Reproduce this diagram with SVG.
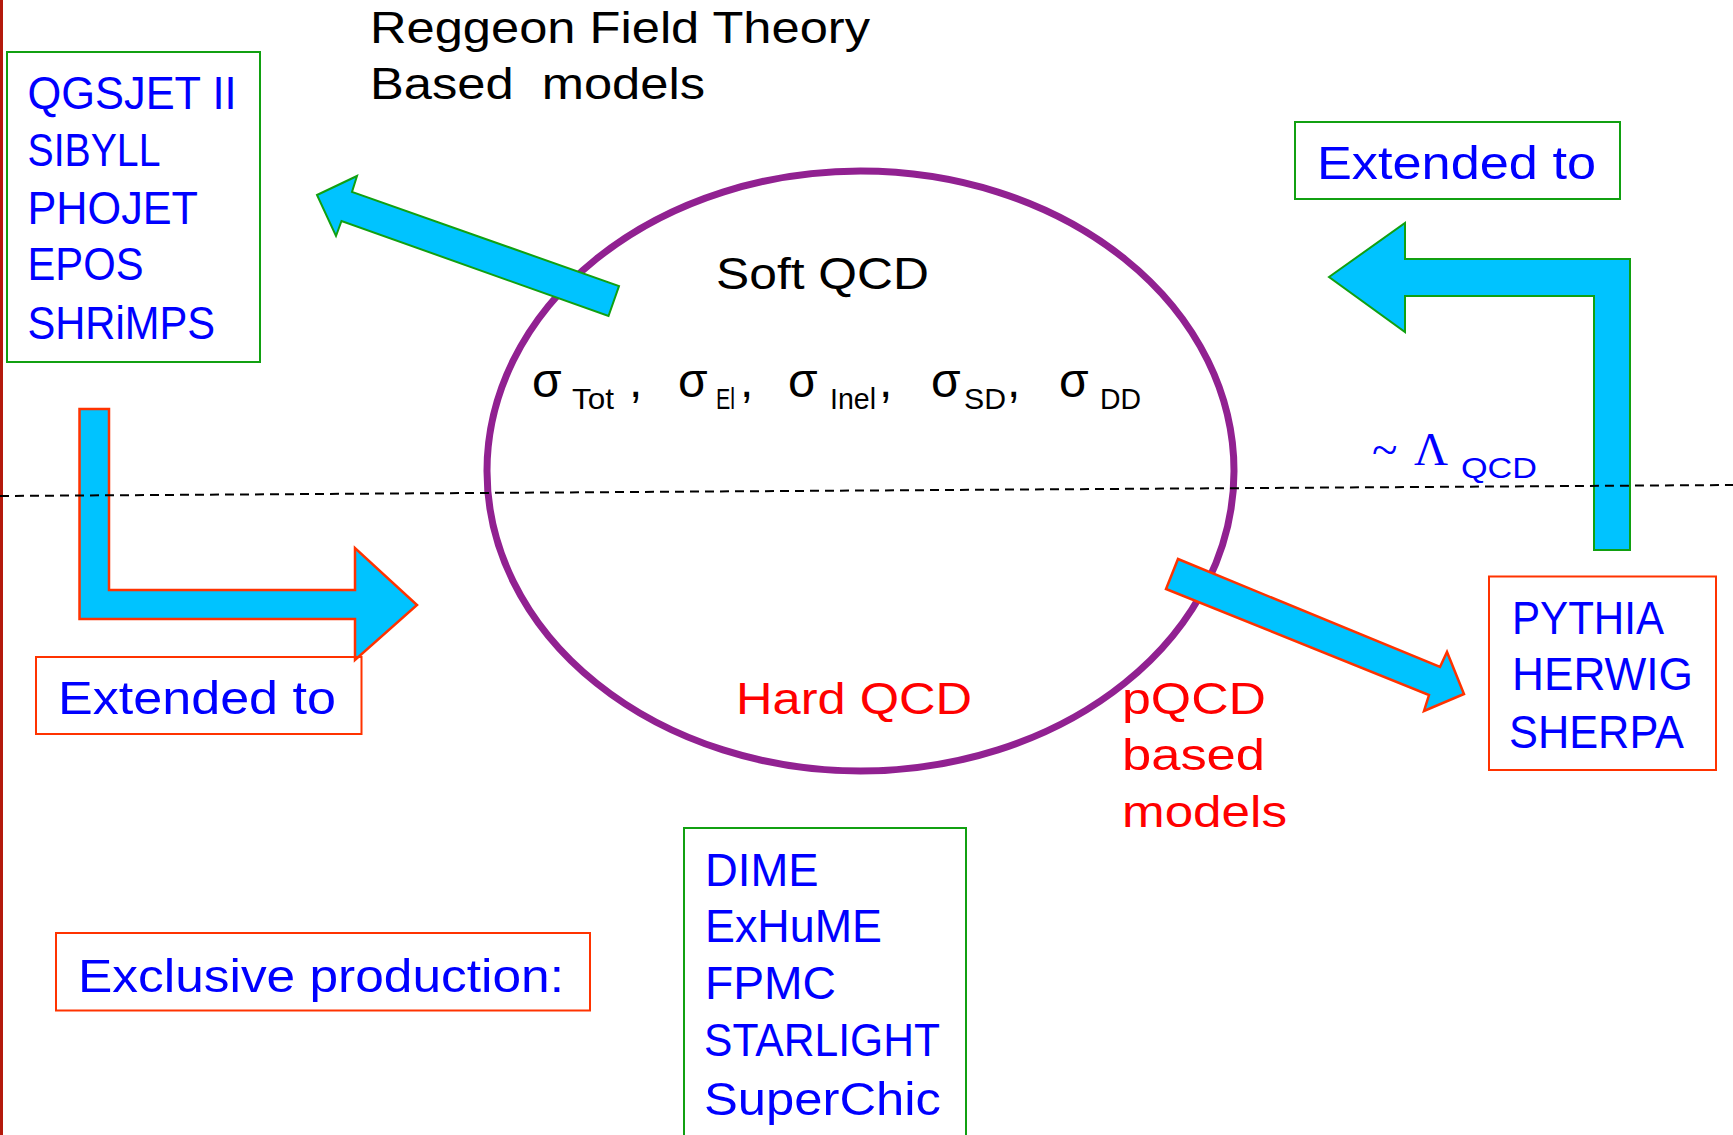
<svg xmlns="http://www.w3.org/2000/svg" width="1733" height="1135" viewBox="0 0 1733 1135">
<style>
text{font-family:"Liberation Sans","Arial",sans-serif;}
.blue{fill:#0000ff;font-size:47px;}
.red{fill:#ff0000;font-size:45px;}
.blk{fill:#000;font-size:44px;}
.gbox{fill:none;stroke:#11a011;stroke-width:2;}
.rbox{fill:none;stroke:#ff3300;stroke-width:2;}
.garrow{fill:#00c3ff;stroke:#11a011;stroke-width:2;}
.rarrow{fill:#00c3ff;stroke:#ff3300;stroke-width:2.5;}
.sig{fill:#000;font-size:48px;}
.sub{fill:#000;font-size:30px;}
.serif{font-family:"Liberation Serif","Times New Roman",serif;fill:#0000ff;font-size:47px;}
</style>
<rect x="0" y="0" width="1733" height="1135" fill="#ffffff"/>
<rect x="0" y="0" width="3" height="1135" fill="#b4190c"/>

<g id="soft-hard-qcd">
<ellipse cx="860.5" cy="471" rx="373.5" ry="300" fill="none" stroke="#912191" stroke-width="7"/>
</g>

<g id="connectors">
<polygon class="garrow" points="317,195 357,176 352,192 619,286 608.5,316 341.5,221 336,236"/>
<polygon class="garrow" points="1329,277 1405,223 1405,259 1630,259 1630,550 1594,550 1594,296 1405,296 1405,332"/>
<polygon class="rarrow" points="79.5,409 109,409 109,590 355,590 355,548 417,605 355,660 355,619 79.5,619"/>
<polygon class="rarrow" points="1178,559 1440,667 1447,652 1464,694 1424,711 1429,695 1166,589"/>
<line x1="0" y1="496" x2="1733" y2="485" stroke="#000" stroke-width="2" stroke-dasharray="9 6"/>
</g>

<g id="rft-title">
<text class="blk" x="370" y="43" textLength="500" lengthAdjust="spacingAndGlyphs">Reggeon Field Theory</text>
<text class="blk" x="370" y="99" textLength="335" lengthAdjust="spacingAndGlyphs">Based&#160; models</text>
</g>

<g id="rft-models">
<rect class="gbox" x="7" y="52" width="253" height="310"/>
<text class="blue" x="27.5" y="109" textLength="209" lengthAdjust="spacingAndGlyphs">QGSJET II</text>
<text class="blue" x="27.5" y="166" textLength="133" lengthAdjust="spacingAndGlyphs">SIBYLL</text>
<text class="blue" x="27.5" y="224" textLength="170.5" lengthAdjust="spacingAndGlyphs">PHOJET</text>
<text class="blue" x="27.5" y="280" textLength="116" lengthAdjust="spacingAndGlyphs">EPOS</text>
<text class="blue" x="27.5" y="339" textLength="187.5" lengthAdjust="spacingAndGlyphs">SHRiMPS</text>
</g>

<g id="extended-top">
<rect class="gbox" x="1295" y="122" width="325" height="77"/>
<text class="blue" x="1317" y="179" textLength="279" lengthAdjust="spacingAndGlyphs">Extended to</text>
</g>

<g id="soft-label">
<text class="blk" x="716" y="289" textLength="213" lengthAdjust="spacingAndGlyphs">Soft QCD</text>
</g>

<g id="cross-sections">
<text class="sig" x="532" y="397">σ</text>
<text class="sub" x="572" y="409" textLength="42" lengthAdjust="spacingAndGlyphs">Tot</text>
<text class="sig" x="629" y="397">,</text>
<text class="sig" x="678" y="397">σ</text>
<text class="sub" x="716" y="409" textLength="19" lengthAdjust="spacingAndGlyphs">El</text>
<text class="sig" x="740" y="397">,</text>
<text class="sig" x="788" y="397">σ</text>
<text class="sub" x="830" y="409" textLength="46" lengthAdjust="spacingAndGlyphs">Inel</text>
<text class="sig" x="879" y="397">,</text>
<text class="sig" x="931" y="397">σ</text>
<text class="sub" x="964" y="409" textLength="42" lengthAdjust="spacingAndGlyphs">SD</text>
<text class="sig" x="1007" y="397">,</text>
<text class="sig" x="1059" y="397">σ</text>
<text class="sub" x="1100" y="409" textLength="41" lengthAdjust="spacingAndGlyphs">DD</text>
</g>

<g id="lambda-qcd">
<text class="serif" x="1372" y="465">~</text>
<text class="serif" x="1414" y="465">Λ</text>
<text class="blue" style="font-size:30px" x="1461" y="478" textLength="76" lengthAdjust="spacingAndGlyphs">QCD</text>
</g>

<g id="extended-bottom">
<rect class="rbox" x="36" y="657" width="325.5" height="77"/>
<text class="blue" x="58" y="714" textLength="278" lengthAdjust="spacingAndGlyphs">Extended to</text>
</g>

<g id="hard-label">
<text class="red" x="736" y="714" textLength="236" lengthAdjust="spacingAndGlyphs">Hard QCD</text>
</g>

<g id="pqcd-label">
<text class="red" x="1122" y="714" textLength="144" lengthAdjust="spacingAndGlyphs">pQCD</text>
<text class="red" x="1122" y="770" textLength="143" lengthAdjust="spacingAndGlyphs">based</text>
<text class="red" x="1122" y="827" textLength="165" lengthAdjust="spacingAndGlyphs">models</text>
</g>

<g id="pqcd-models">
<rect class="rbox" x="1489" y="576.5" width="227" height="193.5"/>
<text class="blue" x="1512" y="634" textLength="152" lengthAdjust="spacingAndGlyphs">PYTHIA</text>
<text class="blue" x="1512" y="690" textLength="181" lengthAdjust="spacingAndGlyphs">HERWIG</text>
<text class="blue" x="1509" y="748" textLength="175" lengthAdjust="spacingAndGlyphs">SHERPA</text>
</g>

<g id="exclusive">
<rect class="rbox" x="56" y="933" width="534" height="77.5"/>
<text class="blue" x="78" y="992" textLength="486" lengthAdjust="spacingAndGlyphs">Exclusive production:</text>
</g>

<g id="exclusive-models">
<rect class="gbox" x="684" y="828" width="282" height="320"/>
<text class="blue" x="705" y="886" textLength="113.5" lengthAdjust="spacingAndGlyphs">DIME</text>
<text class="blue" x="705" y="942" textLength="177" lengthAdjust="spacingAndGlyphs">ExHuME</text>
<text class="blue" x="705" y="999" textLength="131" lengthAdjust="spacingAndGlyphs">FPMC</text>
<text class="blue" x="704" y="1056" textLength="236" lengthAdjust="spacingAndGlyphs">STARLIGHT</text>
<text class="blue" x="704" y="1115" textLength="237" lengthAdjust="spacingAndGlyphs">SuperChic</text>
</g>
</svg>
